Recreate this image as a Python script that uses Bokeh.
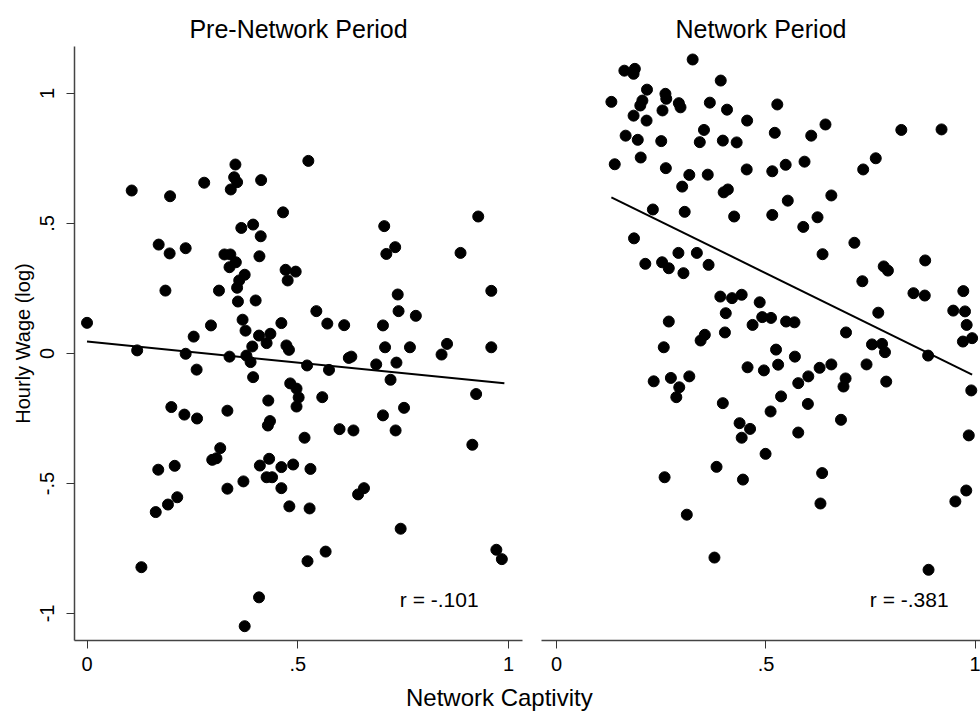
from bokeh.plotting import figure
from bokeh.layouts import column, row
from bokeh.models import FixedTicker, Label
from bokeh.embed import file_html
from bokeh.resources import INLINE

# ---------------- data ----------------
titles = ["Pre-Network Period", "Network Period"]
r_labels = ["r = -.101", "r = -.381"]
x_axis_title = "Network Captivity"
y_axis_title = "Hourly Wage (log)"

x_ticks = [0, 0.5, 1]
x_tick_labels = ["0", ".5", "1"]
y_ticks = [-1, -0.5, 0, 0.5, 1]
y_tick_labels = ["-1", "-.5", "0", ".5", "1"]

pre_x = [0.000, 0.106, 0.197, 0.278, 0.352, 0.349, 0.356, 0.341, 0.413, 0.465,
         0.366, 0.394, 0.412, 0.170, 0.196, 0.234, 0.326, 0.340, 0.353, 0.338,
         0.374, 0.361, 0.356, 0.409, 0.471, 0.476, 0.186, 0.313, 0.358, 0.400,
         0.369, 0.376, 0.294, 0.253, 0.461, 0.408, 0.435, 0.426, 0.392, 0.473,
         0.479, 0.119, 0.234, 0.338, 0.378,
         0.525, 0.705, 0.731, 0.710, 0.928, 0.886, 0.495, 0.737, 0.959, 0.544,
         0.570, 0.610, 0.739, 0.780, 0.702, 0.707, 0.766, 0.854, 0.841, 0.959,
         0.627, 0.621, 0.686, 0.734,
         0.388, 0.260, 0.394, 0.430, 0.200, 0.231, 0.261, 0.333, 0.429, 0.434,
         0.316, 0.297, 0.307, 0.169, 0.208, 0.410, 0.432, 0.461, 0.489, 0.426,
         0.439, 0.333, 0.371, 0.461, 0.480, 0.214, 0.192, 0.163, 0.129, 0.408,
         0.374, 0.482, 0.497, 0.502, 0.497,
         0.522, 0.574, 0.720, 0.558, 0.702, 0.752, 0.923, 0.599, 0.632, 0.732,
         0.516, 0.914, 0.530, 0.528, 0.643, 0.657, 0.744, 0.566, 0.523, 0.971,
         0.984]
pre_y = [0.118, 0.627, 0.605, 0.657, 0.727, 0.678, 0.659, 0.631, 0.667, 0.543,
         0.483, 0.496, 0.451, 0.419, 0.385, 0.405, 0.381, 0.381, 0.351, 0.332,
         0.303, 0.281, 0.253, 0.374, 0.322, 0.281, 0.242, 0.242, 0.200, 0.204,
         0.130, 0.088, 0.108, 0.065, 0.117, 0.069, 0.076, 0.040, 0.027, 0.031,
         0.014, 0.012, -0.001, -0.012, -0.008,
         0.741, 0.490, 0.409, 0.383, 0.527, 0.387, 0.315, 0.227, 0.241, 0.163,
         0.115, 0.109, 0.163, 0.145, 0.108, 0.024, 0.024, 0.037, -0.004, 0.024,
         -0.012, -0.017, -0.042, -0.035,
         -0.033, -0.062, -0.091, -0.181, -0.206, -0.235, -0.250, -0.220, -0.277, -0.260,
         -0.364, -0.409, -0.403, -0.447, -0.432, -0.431, -0.405, -0.437, -0.427, -0.476,
         -0.476, -0.520, -0.492, -0.518, -0.588, -0.553, -0.581, -0.610, -0.822, -0.938,
         -1.049, -0.115, -0.135, -0.169, -0.204,
         -0.046, -0.063, -0.101, -0.168, -0.238, -0.209, -0.156, -0.291, -0.296, -0.296,
         -0.324, -0.351, -0.444, -0.596, -0.542, -0.518, -0.674, -0.762, -0.799, -0.755,
         -0.791]

net_x = [0.325, 0.162, 0.187, 0.184, 0.392, 0.216, 0.260, 0.262, 0.205, 0.200,
         0.131, 0.292, 0.296, 0.366, 0.407, 0.184, 0.253, 0.215, 0.455, 0.352,
         0.165, 0.194, 0.250, 0.342, 0.397, 0.430, 0.139, 0.201, 0.261, 0.317,
         0.361, 0.454, 0.300, 0.399, 0.409, 0.230, 0.306, 0.424, 0.185, 0.291,
         0.335, 0.212, 0.252, 0.268, 0.303, 0.363, 0.391, 0.419, 0.442, 0.485,
         0.404, 0.491, 0.468, 0.268, 0.402, 0.354, 0.344, 0.256,
         0.527, 0.521, 0.608, 0.642, 0.823, 0.919, 0.515, 0.547, 0.592, 0.732,
         0.762, 0.552, 0.656, 0.515, 0.623, 0.589, 0.711, 0.635, 0.781, 0.791,
         0.880, 0.730, 0.852, 0.879, 0.971, 0.947, 0.975, 0.979, 0.970, 0.992,
         0.512, 0.548, 0.568, 0.768, 0.691, 0.753, 0.777, 0.784, 0.524, 0.569,
         0.887,
         0.456, 0.495, 0.232, 0.273, 0.317, 0.293, 0.286, 0.397, 0.437, 0.462,
         0.442, 0.499, 0.382, 0.258, 0.445, 0.311, 0.377,
         0.529, 0.577, 0.601, 0.628, 0.656, 0.740, 0.690, 0.685, 0.787, 0.536,
         0.600, 0.511, 0.679, 0.577, 0.634, 0.630, 0.990, 0.984, 0.978, 0.952,
         0.888]
net_y = [1.131, 1.088, 1.095, 1.076, 1.050, 1.015, 0.999, 0.980, 0.973, 0.954,
         0.968, 0.963, 0.947, 0.965, 0.938, 0.915, 0.935, 0.896, 0.896, 0.860,
         0.838, 0.822, 0.817, 0.813, 0.819, 0.812, 0.728, 0.754, 0.713, 0.687,
         0.688, 0.708, 0.642, 0.620, 0.631, 0.554, 0.545, 0.527, 0.443, 0.387,
         0.387, 0.345, 0.351, 0.328, 0.309, 0.341, 0.219, 0.213, 0.226, 0.197,
         0.155, 0.140, 0.110, 0.123, 0.081, 0.072, 0.050, 0.024,
         0.958, 0.849, 0.838, 0.881, 0.860, 0.862, 0.701, 0.726, 0.738, 0.708,
         0.751, 0.588, 0.608, 0.533, 0.524, 0.487, 0.426, 0.382, 0.335, 0.319,
         0.358, 0.278, 0.232, 0.223, 0.240, 0.165, 0.162, 0.110, 0.046, 0.059,
         0.137, 0.123, 0.120, 0.157, 0.081, 0.035, 0.037, 0.005, 0.015, -0.012,
         -0.008,
         -0.053, -0.065, -0.107, -0.094, -0.088, -0.130, -0.168, -0.191, -0.268, -0.290,
         -0.324, -0.386, -0.436, -0.476, -0.485, -0.620, -0.785,
         -0.043, -0.114, -0.088, -0.055, -0.042, -0.042, -0.096, -0.127, -0.108, -0.165,
         -0.194, -0.223, -0.255, -0.304, -0.460, -0.577, -0.142, -0.315, -0.527, -0.569,
         -0.832]

# fitted regression lines (end points)
pre_fit_x = [0.0, 0.99]
pre_fit_y = [0.046, -0.114]
net_fit_x = [0.131, 0.992]
net_fit_y = [0.601, -0.081]

# ---------------- styling ----------------
FONT = "Liberation Sans"
Y_RANGE = (-1.104, 1.181)
BORDER_TOP = 46
FRAME_H = 594
BORDER_BOTTOM = 42
PANEL_H = BORDER_TOP + FRAME_H + BORDER_BOTTOM


def style_axes(p, show_y):
    p.xaxis.ticker = FixedTicker(ticks=x_ticks)
    p.xaxis.major_label_overrides = {t: l for t, l in zip(x_ticks, x_tick_labels)}
    p.xaxis.axis_label = None
    for ax in p.axis:
        ax.axis_line_color = "#444444"
        ax.axis_line_width = 1.5
        ax.major_tick_line_color = "#333333"
        ax.major_tick_out = 8
        ax.major_tick_in = 0
        ax.minor_tick_out = 0
        ax.minor_tick_in = 0
        ax.major_label_text_font = FONT
        ax.major_label_text_font_size = "20px"
        ax.major_label_text_color = "black"
    p.xaxis.major_label_standoff = 8
    if show_y:
        p.yaxis.ticker = FixedTicker(ticks=y_ticks)
        p.yaxis.major_label_overrides = {t: l for t, l in zip(y_ticks, y_tick_labels)}
        p.yaxis.major_label_orientation = "vertical"
        p.yaxis.major_label_standoff = 12
        p.yaxis.axis_label = y_axis_title
        p.yaxis.axis_label_text_font = FONT
        p.yaxis.axis_label_text_font_size = "20px"
        p.yaxis.axis_label_text_font_style = "normal"
        p.yaxis.axis_label_text_color = "black"
        p.yaxis.axis_label_standoff = 4


def make_panel(title, xs, ys, fx, fy, rtxt, rx, x_range, width, b_left, b_right, show_y):
    p = figure(width=width, height=PANEL_H, x_range=x_range, y_range=Y_RANGE,
               output_backend="svg", toolbar_location=None, title=title,
               y_axis_location="left" if show_y else None,
               min_border_left=b_left, min_border_right=b_right,
               min_border_top=BORDER_TOP, min_border_bottom=BORDER_BOTTOM)
    p.title.text_font = FONT
    p.title.text_font_size = "25px"
    p.title.text_font_style = "normal"
    p.title.text_color = "black"
    p.title.align = "center"
    p.title.standoff = 8
    p.grid.visible = False
    p.outline_line_color = None
    p.background_fill_color = "white"
    p.border_fill_color = "white"
    style_axes(p, show_y)
    p.line(fx, fy, line_color="black", line_width=2)
    p.scatter(xs, ys, size=11, fill_color="black", line_color="black")
    p.add_layout(Label(x=rx, y=-0.945, text=rtxt, text_align="right",
                       text_baseline="middle", text_font=FONT,
                       text_font_size="21px", text_color="black"))
    return p


p1 = make_panel(titles[0], pre_x, pre_y, pre_fit_x, pre_fit_y, r_labels[0], 0.929,
                (-0.0297, 1.033), 531, 74, 9, True)
p2 = make_panel(titles[1], net_x, net_y, net_fit_x, net_fit_y, r_labels[1], 0.936,
                (-0.0358, 1.012), 449, 10, 0, False)

p3 = figure(width=980, height=713 - PANEL_H, x_range=(0, 1), y_range=(0, 1),
            output_backend="svg", toolbar_location=None,
            x_axis_location=None, y_axis_location=None, min_border=0)
p3.grid.visible = False
p3.outline_line_color = None
p3.add_layout(Label(x=0.509, y=16, y_units="screen", text=x_axis_title,
                    text_align="center", text_baseline="middle",
                    text_font=FONT, text_font_size="24px", text_color="black"))

layout = column(row(p1, p2), p3)

open("out.html", "w").write(file_html(layout, INLINE))
